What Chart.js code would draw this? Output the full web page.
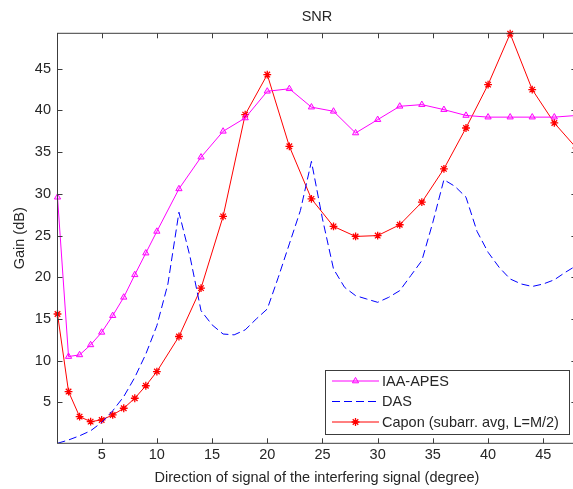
<!DOCTYPE html>
<html>
<head>
<meta charset="utf-8">
<script src="https://cdn.jsdelivr.net/npm/chart.js@4.4.1/dist/chart.umd.min.js"></script>
<style>
    html, body { margin: 0; padding: 0; background: #fff; overflow: hidden; }
    #wrap { width: 600px; height: 489px; }
</style>
</head>
<body>
<div id="wrap"><canvas id="chart" width="600" height="489"></canvas></div>
<script>
// angles (degree) where IAA-APES and Capon were evaluated
const markerAngles = [1, 2, 3, 4, 5, 6, 7, 8, 9, 10, 12, 14, 16, 18, 20, 22, 24, 26, 28, 30, 32, 34, 36, 38, 40, 42, 44, 46, 48];
const iaaApes = [29.6, 10.5, 10.7, 11.9, 13.4, 15.4, 17.6, 20.3, 22.9, 25.5, 30.6, 34.4, 37.5, 39.1, 42.3, 42.6, 40.4, 39.9, 37.3, 38.9, 40.5, 40.7, 40.1, 39.4, 39.2, 39.2, 39.2, 39.2, 39.4];
const capon = [15.6, 6.3, 3.3, 2.7, 2.9, 3.5, 4.3, 5.5, 7.0, 8.7, 12.9, 18.7, 27.3, 39.5, 44.3, 35.7, 29.4, 26.1, 24.9, 25.0, 26.3, 29.0, 33.0, 37.9, 43.1, 49.2, 42.5, 38.5, 35.5];

// DAS on a 1 degree grid
const dasAngles = [1, 2, 3, 4, 5, 6, 7, 8, 9, 10, 11, 12, 13, 14, 15, 16, 17, 18, 19, 20, 21, 22, 23, 24, 25, 26, 27, 28, 29, 30, 31, 32, 33, 34, 35, 36, 37, 38, 39, 40, 41, 42, 43, 44, 45, 46, 47, 48];
const das = [0.1, 0.5, 1.0, 1.6, 2.6, 4.0, 5.7, 8.0, 10.8, 14.2, 19.2, 27.8, 22.5, 16.0, 14.3, 13.2, 13.1, 13.7, 15.0, 16.2, 20.0, 24.0, 28.0, 33.9, 27.0, 21.0, 18.8, 17.8, 17.4, 17.0, 17.6, 18.4, 20.2, 22.0, 26.6, 31.7, 30.9, 29.6, 25.5, 23.0, 21.2, 19.8, 19.2, 18.9, 19.2, 19.7, 20.6, 21.4];

const xTicks = [5, 10, 15, 20, 25, 30, 35, 40, 45];
const yTicks = [5, 10, 15, 20, 25, 30, 35, 40, 45];
const seriesNames = ['IAA-APES', 'DAS', 'Capon (subarr. avg, L=M/2)'];

const textColor = '#262626';
const axisColor = '#3c3c3c';
const fontFamily = 'Arial, "Liberation Sans", sans-serif';
const fontSize = 14.5;

function pairs(xs, ys) {
    return xs.map((x, i) => ({ x: x, y: ys[i] }));
}

// MATLAB style box: border on all sides, ticks pointing inward, title and legend
const boxPlugin = {
    id: 'box',
    afterDraw(chart) {
        const ctx = chart.ctx;
        const a = chart.chartArea;
        const xs = chart.scales.x, ys = chart.scales.y;
        ctx.save();
        ctx.strokeStyle = axisColor;
        ctx.lineWidth = 1;
        ctx.strokeRect(a.left, a.top, a.right - a.left, a.bottom - a.top);
        ctx.beginPath();
        xTicks.forEach(v => {
            const px = Math.round(xs.getPixelForValue(v)) + 0.5;
            ctx.moveTo(px, a.bottom); ctx.lineTo(px, a.bottom - 5);
            ctx.moveTo(px, a.top); ctx.lineTo(px, a.top + 5);
        });
        yTicks.forEach(v => {
            const py = Math.round(ys.getPixelForValue(v)) + 0.5;
            ctx.moveTo(a.left, py); ctx.lineTo(a.left + 5, py);
            ctx.moveTo(a.right, py); ctx.lineTo(a.right - 5, py);
        });
        ctx.stroke();

        ctx.fillStyle = textColor;
        ctx.font = fontSize + 'px ' + fontFamily;
        ctx.textAlign = 'center';
        ctx.textBaseline = 'middle';
        ctx.fillText('SNR', (a.left + a.right) / 2, 17);

        // legend box in the lower right corner
        const bx = 325.5, by = 370.5, bw = 244, bh = 64;
        ctx.fillStyle = '#fff';
        ctx.fillRect(bx, by, bw, bh);
        ctx.strokeStyle = axisColor;
        ctx.strokeRect(bx, by, bw, bh);
        const rows = [381, 401.5, 422];
        chart.data.datasets.forEach((ds, i) => {
            const y = rows[i];
            ctx.strokeStyle = ds.borderColor;
            ctx.lineWidth = 1;
            ctx.setLineDash(ds.borderDash || []);
            ctx.beginPath();
            ctx.moveTo(332, y); ctx.lineTo(379, y);
            ctx.stroke();
            ctx.setLineDash([]);
            if (ds.pointRadius > 0) {
                ctx.fillStyle = ds.pointBackgroundColor;
                ctx.strokeStyle = ds.borderColor;
                ctx.lineWidth = ds.pointBorderWidth;
                Chart.helpers.drawPoint(ctx, { pointStyle: ds.pointStyle, radius: ds.pointRadius, borderWidth: ds.pointBorderWidth }, 355.5, y);
            }
            ctx.fillStyle = textColor;
            ctx.font = fontSize + 'px ' + fontFamily;
            ctx.textAlign = 'left';
            ctx.textBaseline = 'middle';
            ctx.fillText(seriesNames[i], 382, y + 0.5);
        });
        ctx.restore();
    }
};

new Chart(document.getElementById('chart').getContext('2d'), {
    type: 'line',
    data: {
        datasets: [
            {
                label: seriesNames[0],
                data: pairs(markerAngles, iaaApes),
                borderColor: '#ff00ff',
                backgroundColor: 'rgba(255,0,255,0.15)',
                pointBackgroundColor: 'rgba(255,0,255,0.15)',
                borderWidth: 1,
                pointStyle: 'triangle',
                pointRadius: 3.6,
                pointBorderWidth: 1,
                tension: 0,
                clip: false
            },
            {
                label: seriesNames[1],
                data: pairs(dasAngles, das),
                borderColor: '#0000ff',
                borderWidth: 1,
                borderDash: [8, 4],
                pointRadius: 0,
                tension: 0
            },
            {
                label: seriesNames[2],
                data: pairs(markerAngles, capon),
                borderColor: '#ff0000',
                backgroundColor: '#ff0000',
                pointBackgroundColor: '#ff0000',
                borderWidth: 1,
                pointStyle: 'star',
                pointRadius: 3.9,
                pointBorderWidth: 1.3,
                tension: 0,
                clip: false
            }
        ]
    },
    options: {
        responsive: false,
        animation: false,
        layout: { padding: { top: 33.3, right: 23.6, left: 0, bottom: 0 } },
        plugins: {
            legend: { display: false },
            title: { display: false },
            tooltip: { enabled: false }
        },
        scales: {
            x: {
                type: 'linear',
                min: 1,
                max: 48,
                grid: { display: false, drawTicks: false },
                border: { display: false },
                afterBuildTicks: s => { s.ticks = xTicks.map(v => ({ value: v })); },
                afterFit: s => { s.height = 45.7; },
                ticks: { color: textColor, font: { size: fontSize, family: fontFamily }, padding: 3, maxRotation: 0, autoSkip: false },
                title: {
                    display: true,
                    text: 'Direction of signal of the interfering signal (degree)',
                    color: textColor,
                    font: { size: fontSize, family: fontFamily },
                    padding: { top: 2.6, bottom: 2.6 }
                }
            },
            y: {
                type: 'linear',
                min: 0.1,
                max: 49.25,
                grid: { display: false, drawTicks: false },
                border: { display: false },
                afterBuildTicks: s => { s.ticks = yTicks.map(v => ({ value: v })); },
                afterFit: s => { s.width = 57.5; },
                ticks: { color: textColor, font: { size: fontSize, family: fontFamily }, padding: 6.5, autoSkip: false },
                title: {
                    display: true,
                    text: 'Gain (dB)',
                    color: textColor,
                    font: { size: fontSize, family: fontFamily },
                    padding: { top: 11, bottom: 0 }
                }
            }
        }
    },
    plugins: [boxPlugin]
});
</script>
</body>
</html>
